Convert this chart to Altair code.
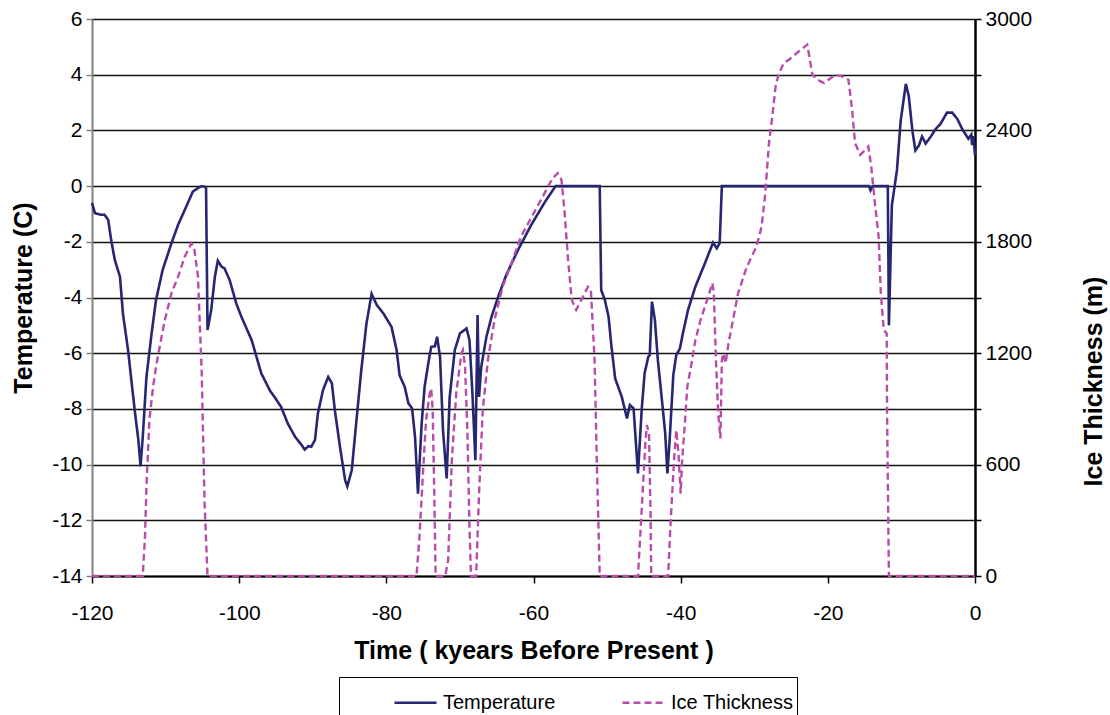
import altair as alt
import pandas as pd

# ---- data ----
temp_time = [-120.0, -119.6, -118.7, -118.3, -117.8, -117.4, -116.9, -116.2, -115.8, -115.1,
             -114.7, -114.2, -113.7, -113.4, -113.1, -112.6, -111.9, -111.3, -110.4, -109.2,
             -108.3, -107.2, -106.3, -105.6, -105.1, -104.7, -104.5, -104.3, -103.8, -103.3,
             -102.9, -102.4, -102.0, -101.3, -100.4, -99.7, -98.3, -97.0, -95.8, -95.2,
             -94.3, -93.4, -92.4, -91.5, -91.1, -90.6, -90.2, -89.7, -89.3, -88.6,
             -87.9, -87.4, -87.0, -86.3, -85.6, -85.3, -84.7, -84.1, -83.4, -82.7,
             -82.0, -81.3, -80.4, -79.3, -78.6, -78.2, -77.5, -77.0, -76.5, -76.1,
             -75.7, -75.2, -74.8, -74.3, -73.9, -73.4, -73.1, -72.7, -72.3, -71.8,
             -71.4, -70.7, -70.0, -69.1, -68.7, -68.3, -67.9, -67.6, -67.4, -67.1,
             -66.4, -65.7, -64.8, -63.7, -62.1, -60.3, -58.4, -57.0, -51.0, -50.8,
             -50.3, -49.8, -49.4, -48.9, -48.0, -47.3, -46.9, -46.4, -45.8, -45.3,
             -44.9, -44.4, -44.2, -43.9, -43.5, -43.1, -42.5, -42.1, -41.8, -41.5,
             -41.0, -40.6, -40.1, -39.7, -39.0, -38.0, -36.7, -35.6, -35.1, -34.7,
             -34.4, -14.4, -14.2, -13.9, -11.85, -11.7, -11.3, -10.6, -10.1, -9.4,
             -9.0, -8.5, -8.1, -7.6, -7.2, -6.7, -6.0, -5.4, -4.7, -3.8,
             -3.1, -2.4, -1.7, -0.9, -0.5, -0.4, -0.2, 0.0]
temp_value = [-0.6, -0.97, -1.03, -1.03, -1.21, -1.93, -2.65, -3.25, -4.57, -5.89,
              -6.85, -8.04, -9.12, -10.06, -9.0, -6.85, -5.29, -4.09, -3.01, -2.05,
              -1.39, -0.74, -0.2, -0.07, 0.0, -0.02, -0.07, -5.17, -4.45, -3.25,
              -2.68, -2.89, -2.95, -3.37, -4.21, -4.69, -5.53, -6.72, -7.35, -7.57,
              -7.93, -8.52, -9.0, -9.3, -9.46, -9.34, -9.36, -9.12, -8.16, -7.32,
              -6.85, -7.08, -8.04, -9.36, -10.56, -10.78, -10.2, -8.52, -6.6, -4.93,
              -3.87, -4.27, -4.57, -5.05, -5.89, -6.79, -7.21, -7.8, -7.98, -9.0,
              -11.04, -8.52, -7.21, -6.37, -5.77, -5.75, -5.41, -6.13, -8.76, -10.5,
              -7.6, -5.89, -5.29, -5.11, -5.53, -7.44, -9.84, -4.63, -7.57, -6.49,
              -5.41, -4.69, -3.97, -3.19, -2.29, -1.39, -0.55, 0.0, 0.0, -3.73,
              -4.09, -4.69, -5.77, -6.91, -7.57, -8.34, -7.86, -7.98, -10.32, -8.04,
              -6.72, -6.13, -6.07, -4.15, -4.81, -6.25, -7.8, -8.88, -10.32, -9.12,
              -6.79, -6.07, -5.83, -5.29, -4.45, -3.61, -2.77, -2.03, -2.23, -2.05,
              0.0, 0.0, -0.15, 0.0, 0.0, -5.0, -0.7, 0.59, 2.35, 3.67,
              3.23, 1.97, 1.28, 1.47, 1.78, 1.53, 1.78, 2.03, 2.23, 2.64,
              2.64, 2.41, 2.03, 1.7, 1.85, 1.47, 1.8, 1.1]

ice_time = [-120.0, -113.1, -112.8, -112.6, -112.4, -112.2, -111.7, -111.3, -110.8, -110.1,
            -109.2, -108.3, -107.4, -106.5, -106.1, -105.6, -105.1, -104.9, -104.7, -104.3,
            -75.9, -75.5, -75.0, -74.6, -74.1, -73.9, -73.7, -73.5, -73.3,
            -72.0, -71.6, -71.1, -70.5, -69.8, -69.6, -69.3, -69.0, -68.7, -68.5,
            -67.8, -67.4, -66.9, -66.2, -65.3, -64.2, -63.0, -61.7, -60.1, -58.5,
            -57.4, -56.7, -56.2, -55.8, -55.3, -54.8, -54.2, -53.5, -52.6, -52.2,
            -51.7, -51.4, -51.0,
            -45.8, -45.3, -44.8, -44.6, -44.3, -44.1, -44.0,
            -41.7, -41.4, -40.9, -40.6, -40.3, -40.0, -39.8, -39.4, -39.1, -38.6,
            -38.0, -37.3, -36.4, -35.7, -35.5, -35.2, -34.9, -34.6, -34.4, -34.2,
            -33.9, -33.5, -32.8, -32.2, -31.0, -29.7, -29.0, -28.5, -28.0, -27.6,
            -27.1, -26.7, -26.0, -25.3, -24.2, -22.8, -22.6, -22.1, -21.4, -20.5,
            -19.9, -19.0, -18.1, -17.2, -16.7, -16.3, -15.6, -14.9, -14.5, -14.1,
            -13.6, -13.1, -12.8, -12.4, -12.0, -11.95, -11.7, 0.0]
ice_value = [0, 0, 210, 480, 660, 840, 1019, 1127, 1235, 1379,
             1523, 1612, 1720, 1792, 1765, 1612, 1109, 750, 390, 0,
             0, 210, 570, 840, 983, 1010, 893, 480, 0,
             0, 85, 624, 983, 1199, 1217, 1127, 803, 264, 0,
             0, 444, 893, 1163, 1379, 1558, 1684, 1828, 1945, 2062,
             2143, 2170, 2134, 1972, 1702, 1487, 1433, 1487, 1558, 1541,
             1163, 624, 0,
             0, 354, 714, 813, 768, 354, 0,
             0, 264, 624, 786, 660, 444, 624, 840, 1019, 1127,
             1271, 1379, 1487, 1577, 1531, 1163, 876, 741, 1163, 1199,
             1145, 1253, 1397, 1523, 1666, 1774, 1882, 2062, 2332, 2457,
             2637, 2700, 2763, 2781, 2817, 2862, 2817, 2700, 2673, 2655,
             2673, 2700, 2691, 2673, 2511, 2332, 2268, 2295, 2313, 2205,
             2008, 1828, 1523, 1325, 1307, 876, 0, 0]

series_names = ["Temperature", "Ice Thickness"]
series_colors = ["#262673", "#B94CAA"]
series_dashes = [[1, 0], [7, 4]]
x_ticks = [-120, -100, -80, -60, -40, -20, 0]
temp_ticks = [-14, -12, -10, -8, -6, -4, -2, 0, 2, 4, 6]
ice_ticks = [0, 300, 600, 900, 1200, 1500, 1800, 2100, 2400, 2700, 3000]

temp_df = pd.DataFrame({"t": temp_time, "v": temp_value, "series": "Temperature"})
ice_df = pd.DataFrame({"t": ice_time, "v": ice_value, "series": "Ice Thickness"})

FONT = "Liberation Sans"
HYPHEN_LABEL = "datum.value < 0 ? '-' + format(-datum.value, 'd') : format(datum.value, 'd')"

legend = alt.Legend(
    orient="none", legendX=247, legendY=658, direction="horizontal",
    strokeColor="black", padding=3, symbolType="stroke", symbolSize=1764,
    symbolStrokeWidth=2.6, labelFontSize=20, labelFont=FONT, labelColor="black",
    labelOffset=5, columnPadding=14, symbolOffset=51, labelLimit=400,
)
color = alt.Color("series:N", title=None,
                  scale=alt.Scale(domain=series_names, range=series_colors), legend=legend)
dash = alt.StrokeDash("series:N", title=None,
                      scale=alt.Scale(domain=series_names, range=series_dashes), legend=legend)

x_enc = alt.X("t:Q", scale=alt.Scale(domain=[-120, 0], nice=False, zero=False),
              axis=alt.Axis(values=x_ticks, grid=False, title="Time ( kyears Before Present )",
                            labelExpr=HYPHEN_LABEL,
                            domainColor="black", domainWidth=2, tickColor="black", tickWidth=1.5,
                            tickSize=7, labelFont=FONT, labelFontSize=21, labelColor="black",
                            labelBaseline="alphabetic", labelPadding=36, labelFlush=False,
                            titleFont=FONT, titleFontSize=25, titleFontWeight="bold",
                            titleColor="black", titleBaseline="alphabetic", titleY=82))

temp_layer = alt.Chart(temp_df).mark_line(strokeWidth=2.6).encode(
    x=x_enc,
    y=alt.Y("v:Q", scale=alt.Scale(domain=[-14, 6], nice=False, zero=False),
            axis=alt.Axis(orient="left", values=temp_ticks, grid=True, gridColor="#111111",
                          gridWidth=1.5, domainColor="#808080", domainWidth=2,
                          tickColor="#808080", tickWidth=1.5, tickSize=6,
                          labelExpr=HYPHEN_LABEL,
                          labelFont=FONT, labelFontSize=21, labelColor="black", labelPadding=4,
                          labelFlush=False,
                          title="Temperature (C)", titleFont=FONT, titleFontSize=25,
                          titleFontWeight="bold", titleColor="black", titleAngle=270,
                          titleBaseline="alphabetic", titleX=-61)),
    color=color, strokeDash=dash, order=alt.Order("t:Q"),
)

ice_layer = alt.Chart(ice_df).mark_line(strokeWidth=2.4).encode(
    x=x_enc,
    y=alt.Y("v:Q", scale=alt.Scale(domain=[0, 3000], nice=False, zero=False),
            axis=alt.Axis(orient="right", values=ice_ticks, grid=False,
                          labelExpr="datum.value % 600 == 0 ? format(datum.value, 'd') : ''",
                          domainColor="black", domainWidth=2.5, tickColor="black",
                          tickWidth=1.5, tickSize=6, labelFont=FONT, labelFontSize=21,
                          labelColor="black", labelPadding=4, labelFlush=False,
                          title="Ice Thickness (m)", titleFont=FONT, titleFontSize=25,
                          titleFontWeight="bold", titleColor="black", titleAngle=270,
                          titleBaseline="alphabetic", titleX=126, titleY=362)),
    color=color, strokeDash=dash, order=alt.Order("t:Q"),
)

chart = alt.layer(temp_layer, ice_layer).resolve_scale(y="independent").properties(
    width=883, height=557,
    autosize=alt.AutoSizeParams(type="none"),
    padding={"left": 92, "top": 19, "right": 135, "bottom": 139},
    background="white",
).configure_view(stroke=None)

chart.save("out.html", embed_options={"renderer": "svg", "actions": False})
